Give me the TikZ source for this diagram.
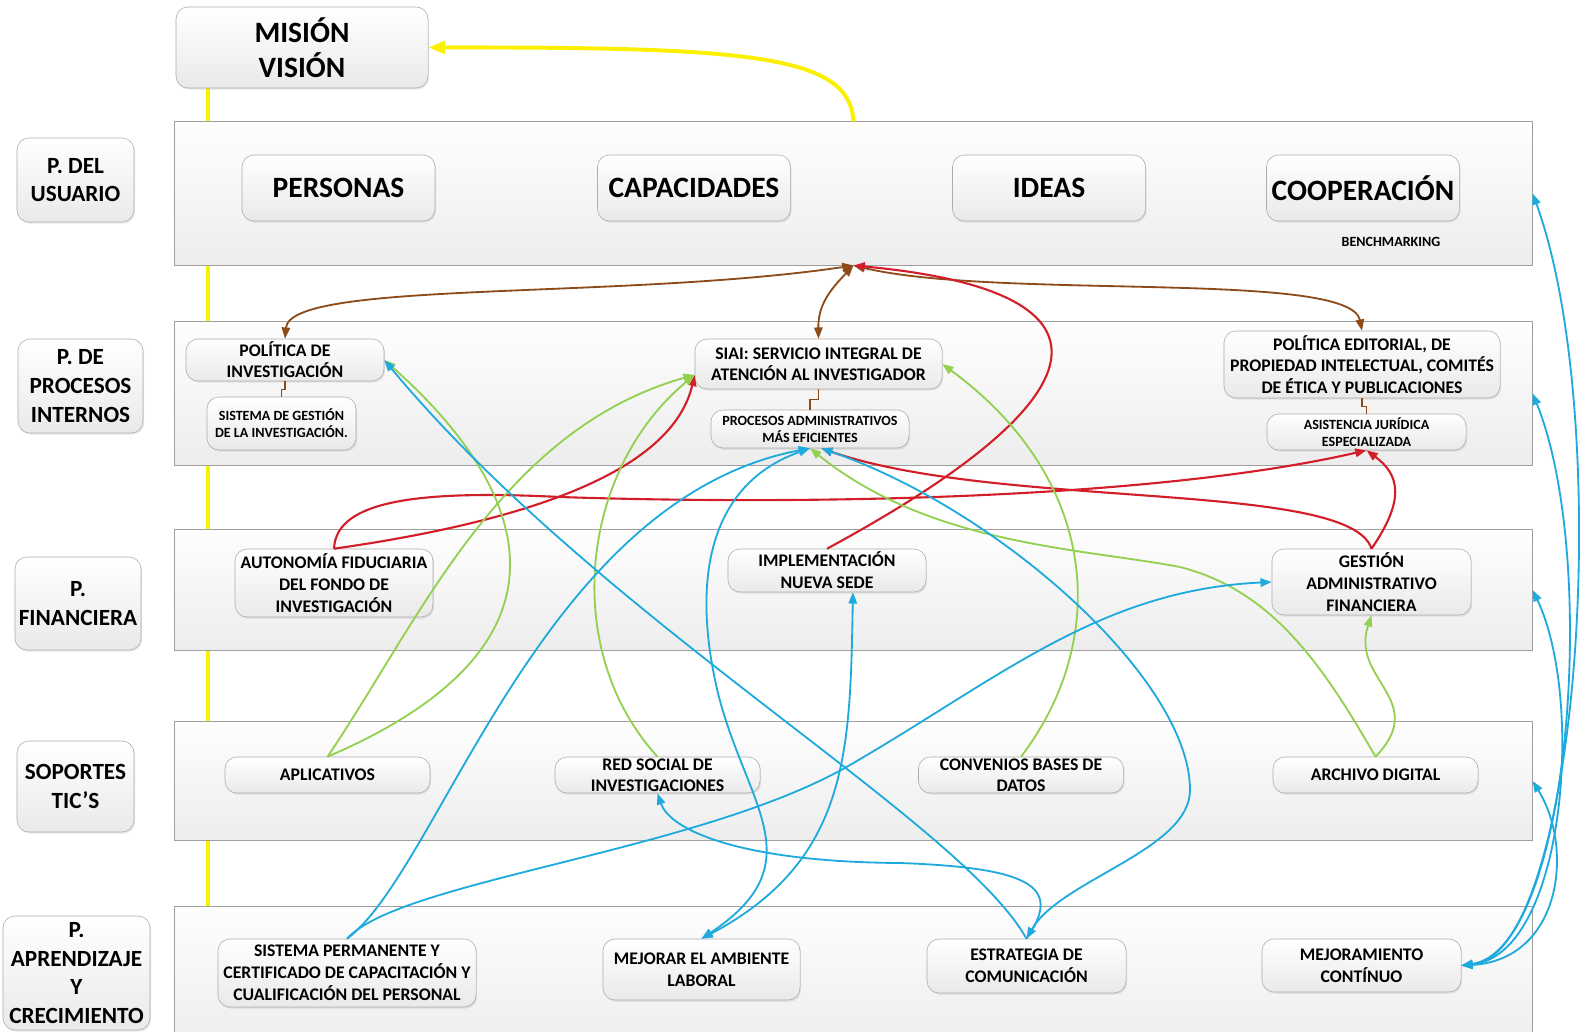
\documentclass[tikz,border=0pt]{standalone}
\usepackage{fontspec}
\setmainfont{Carlito}
\usetikzlibrary{arrows.meta,shadows}

\definecolor{amarillo}{RGB}{250,240,0}
\definecolor{cafe}{RGB}{140,75,25}
\definecolor{rojo}{RGB}{210,30,40}
\definecolor{verde}{RGB}{146,208,80}
\definecolor{azul}{RGB}{30,170,220}

\tikzset{
	caja/.style={draw=gray!65, rounded corners=0.3cm, top color=white, bottom color=gray!17, align=center, inner sep=0pt, drop shadow={opacity=0.18, shadow xshift=0.8pt, shadow yshift=-1.2pt}},
	franja/.style={draw=gray!75, line width=0.7pt, top color=gray!1, bottom color=gray!14, inner sep=0pt, minimum width=33.925cm},
	grande/.style={font=\fontsize{21}{25}\selectfont\bfseries},
	lado/.style={font=\fontsize{16.5}{20.5}\selectfont\bfseries},
	media/.style={font=\fontsize{12.6}{15}\selectfont\bfseries},
	mayor/.style={font=\fontsize{12.6}{15.5}\selectfont\bfseries},
	chica/.style={font=\fontsize{10}{12}\selectfont\bfseries},
	amarilla/.style={amarillo, line width=2.8pt},
	cafeline/.style={cafe, line width=1.3pt, <->},
	codo/.style={cafe, line width=1pt},
	rojaline/.style={rojo, line width=1.5pt, ->},
	verdeline/.style={verde, line width=1.3pt, ->},
	azulline/.style={azul, line width=1.3pt, ->}
}

\begin{document}
\begin{tikzpicture}[x=0.025cm, y=-0.025cm, >={Triangle[length=8pt,width=6pt]}]
		%%%%% START %%%%%
		\path[use as bounding box, fill=white] (0,0) rectangle (1594,1032);
		
		\coordinate (ytop) at (208,88);
		\coordinate (ybot) at (208,907);
		\draw[amarilla] (ytop) -- (ybot);
		
		\node[franja, minimum height=3.575cm] (bUsu) at (853.5,193.5) {};
		\node[franja, minimum height=3.575cm] (bProc) at (853.5,393.5) {};
		\node[franja, minimum height=3cm] (bFin) at (853.5,590) {};
		\node[franja, minimum height=2.95cm] (bTic) at (853.5,781) {};
		\node[franja, minimum height=3.45cm] (bApr) at (853.5,976) {};
		
		\node[caja, grande, minimum width=6.3cm, minimum height=2.025cm] (mision) at (302,47.5) {MISIÓN\\VISIÓN};
		
		\node[caja, lado, minimum width=2.925cm, minimum height=2.1cm] (lusu) at (75.5,180) {P. DEL\\USUARIO};
		\node[caja, lado, minimum width=3.125cm, minimum height=2.35cm] (lproc) at (80.5,386) {P. DE\\PROCESOS\\INTERNOS};
		\node[caja, lado, minimum width=3.15cm, minimum height=2.325cm] (lfin) at (78,603.5) {P.\\FINANCIERA};
		\node[caja, lado, minimum width=2.925cm, minimum height=2.275cm] (ltic) at (75.5,786.5) {SOPORTES\\TIC’S};
		\node[caja, lado, minimum width=3.675cm, minimum height=2.85cm] (lapr) at (76.5,973) {P.\\APRENDIZAJE\\Y\\CRECIMIENTO};
		
		\node[caja, grande, minimum width=4.825cm, minimum height=1.65cm] (personas) at (338.5,188) {PERSONAS};
		\node[caja, grande, minimum width=4.825cm, minimum height=1.65cm] (capacidades) at (694,188) {CAPACIDADES};
		\node[caja, grande, minimum width=4.825cm, minimum height=1.65cm] (ideas) at (1049,188) {IDEAS};
		\node[caja, grande, minimum width=4.825cm, minimum height=1.65cm] (cooperacion) at (1363,188) {COOPERACIÓN};
		\node[chica] (bench) at (1391,242) {BENCHMARKING};
		
		\node[caja, media, minimum width=4.95cm, minimum height=1.05cm] (polinv) at (285,360) {POLÍTICA DE\\INVESTIGACIÓN};
		\node[caja, chica, minimum width=3.725cm, minimum height=1.325cm] (sisgest) at (281.5,423.5) {SISTEMA DE GESTIÓN\\DE LA INVESTIGACIÓN.};
		\node[caja, media, minimum width=6.175cm, minimum height=1.25cm] (siai) at (818.5,364) {SIAI: SERVICIO INTEGRAL DE\\ATENCIÓN AL INVESTIGADOR};
		\node[caja, chica, minimum width=4.95cm, minimum height=0.95cm] (procadm) at (810,429) {PROCESOS ADMINISTRATIVOS\\MÁS EFICIENTES};
		\node[caja, mayor, minimum width=6.9cm, minimum height=1.675cm] (poledit) at (1362,364.5) {POLÍTICA EDITORIAL, DE\\PROPIEDAD INTELECTUAL, COMITÉS\\DE ÉTICA Y PUBLICACIONES};
		\node[caja, chica, minimum width=4.975cm, minimum height=0.9cm] (asist) at (1366.5,432) {ASISTENCIA JURÍDICA\\ESPECIALIZADA};
		
		\node[caja, mayor, minimum width=4.95cm, minimum height=1.7cm] (autonomia) at (334,583) {AUTONOMÍA FIDUCIARIA\\DEL FONDO DE\\INVESTIGACIÓN};
		\node[caja, mayor, minimum width=4.95cm, minimum height=1.075cm] (implem) at (827,570.5) {IMPLEMENTACIÓN\\NUEVA SEDE};
		\node[caja, mayor, minimum width=4.975cm, minimum height=1.65cm] (gestion) at (1371.5,582) {GESTIÓN\\ADMINISTRATIVO\\FINANCIERA};
		
		\node[caja, media, minimum width=5.125cm, minimum height=0.9cm] (aplic) at (327.5,775) {APLICATIVOS};
		\node[caja, media, minimum width=5.125cm, minimum height=0.9cm] (redsoc) at (657.5,775) {RED SOCIAL DE\\INVESTIGACIONES};
		\node[caja, media, minimum width=5.125cm, minimum height=0.9cm] (convenios) at (1021,775) {CONVENIOS BASES DE\\DATOS};
		\node[caja, media, minimum width=5.125cm, minimum height=0.9cm] (archivo) at (1375.5,775) {ARCHIVO DIGITAL};
		
		\node[caja, mayor, minimum width=6.45cm, minimum height=1.7cm] (sisperm) at (347,973) {SISTEMA PERMANENTE Y\\CERTIFICADO DE CAPACITACIÓN Y\\CUALIFICACIÓN DEL PERSONAL};
		\node[caja, mayor, minimum width=4.925cm, minimum height=1.525cm] (mejorar) at (701.5,969.5) {MEJORAR EL AMBIENTE\\LABORAL};
		\node[caja, mayor, minimum width=4.975cm, minimum height=1.35cm] (estrategia) at (1026.5,966) {ESTRATEGIA DE\\COMUNICACIÓN};
		\node[caja, mayor, minimum width=4.975cm, minimum height=1.325cm] (mejoram) at (1361.5,965.5) {MEJORAMIENTO\\CONTÍNUO};
		
		\draw[amarilla, -{Triangle[length=12pt,width=9pt]}] (bUsu.north) .. controls (850,55) and (750,47) .. (mision.east);
		
		\draw[cafeline] (bUsu.south) .. controls (620,300) and (290,280) .. (polinv.north);
		\draw[cafeline] (bUsu.south) .. controls (830,290) and (818,305) .. (siai.north);
		\draw[cafeline] (bUsu.south) .. controls (1000,300) and (1350,270) .. (poledit.north);
		\draw[codo] (polinv.south) -- ++(0,8) -| (sisgest.north);
		\draw[codo] (siai.south) -- ++(0,10) -| (procadm.north);
		\draw[codo] (poledit.south) -- ++(0,8) -| (asist.north);
		
		\draw[rojaline] (implem.north) .. controls (1120,390) and (1120,290) .. (bUsu.south);
		\draw[rojaline] (autonomia.north) .. controls (500,525) and (670,480) .. (siai.185);
		\draw[rojaline] (autonomia.north) .. controls (336,500) and (420,490) .. (560,497) .. controls (800,505) and (1150,500) .. (asist.south);
		\draw[rojaline] (gestion.north) .. controls (1405,500) and (1400,475) .. (asist.south);
		\draw[rojaline] (gestion.north) .. controls (1350,480) and (1000,510) .. (procadm.-60);
		
		\draw[verdeline] (aplic.north) .. controls (420,620) and (500,430) .. (siai.185);
		\draw[verdeline] (aplic.north) .. controls (600,640) and (520,480) .. (polinv.east);
		\draw[verdeline] (redsoc.north) .. controls (560,650) and (580,470) .. (siai.185);
		\draw[verdeline] (convenios.north) .. controls (1110,640) and (1100,480) .. (siai.east);
		\draw[verdeline] (archivo.north) .. controls (1320,660) and (1270,590) .. (1180,567) .. controls (1080,548) and (930,545) .. (procadm.south);
		\draw[verdeline] (archivo.north) .. controls (1430,700) and (1350,680) .. (gestion.south);
		
		\draw[azulline] (sisperm.north) .. controls (440,870) and (540,500) .. (procadm.south);
		\draw[azulline] (sisperm.north) .. controls (400,880) and (700,852) .. (850,765) .. controls (1000,678) and (1100,590) .. (gestion.west);
		\draw[azulline, <->] (procadm.south) .. controls (720,480) and (690,560) .. (715,680) .. controls (740,800) and (820,860) .. (mejorar.north);
		\draw[azulline, <->] (implem.-40) .. controls (850,750) and (850,860) .. (mejorar.north);
		\draw[azulline] (estrategia.north) .. controls (960,820) and (600,620) .. (polinv.east);
		\draw[azulline] (estrategia.north) .. controls (1060,890) and (1040,868) .. (900,863) .. controls (740,862) and (670,830) .. (redsoc.south);
		\draw[azulline, <->] (procadm.-60) .. controls (1000,510) and (1190,680) .. (1190,790) .. controls (1190,850) and (1060,880) .. (estrategia.north);
		\draw[azulline, <->] (mejoram.east) .. controls (1580,955) and (1615,420) .. (bUsu.east);
		\draw[azulline, <->] (mejoram.east) .. controls (1570,950) and (1600,560) .. (bProc.east);
		\draw[azulline, <->] (mejoram.east) .. controls (1565,955) and (1585,700) .. (bFin.east);
		\draw[azulline, <->] (mejoram.east) .. controls (1560,960) and (1575,850) .. (bTic.east);
		%%%%% END %%%%%
\end{tikzpicture}
\end{document}
